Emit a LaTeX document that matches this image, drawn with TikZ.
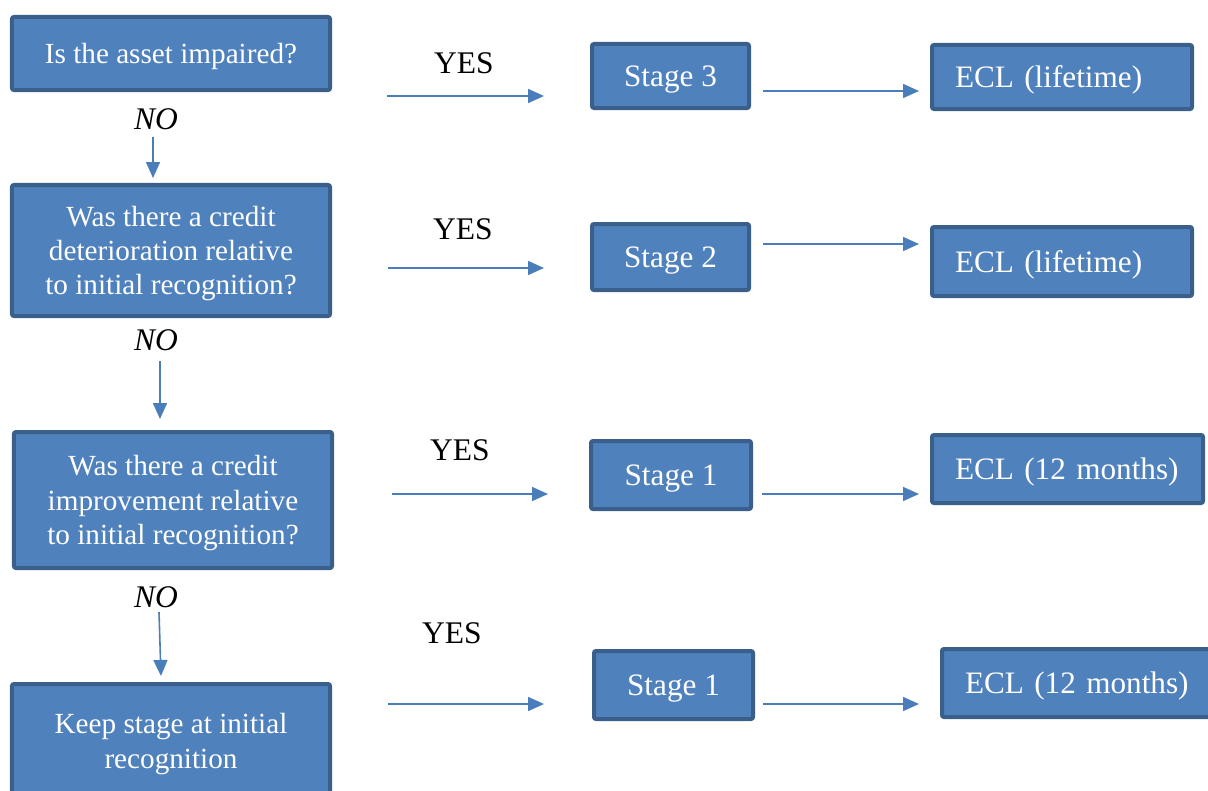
\documentclass[tikz,border=0pt]{standalone}
\usepackage{fontspec}
\setmainfont{Liberation Serif}
\usetikzlibrary{arrows.meta}

\definecolor{boxfill}{HTML}{4F81BD}
\definecolor{boxline}{HTML}{3A5F8B}
\definecolor{arrowblue}{HTML}{4A7EBB}

\tikzset{
  box/.style={draw=boxline, fill=boxfill, line width=4bp, rounded corners=2bp,
    text=white, align=center, inner sep=0pt, text depth=0pt,
    font=\fontsize{29.2bp}{34.3bp}\selectfont},
  stagebox/.style={box, font=\fontsize{31.2bp}{36bp}\selectfont},
  eclbox/.style={stagebox, align=left, inner xsep=23bp},
  lbl/.style={font=\fontsize{31.5bp}{36bp}\selectfont, inner sep=0pt},
  nolbl/.style={lbl, font=\fontsize{31.5bp}{36bp}\selectfont\itshape},
  arr/.style={arrowblue, line width=1.6bp, -{Triangle[length=16bp, width=14bp]}}
}

\begin{document}
\begin{tikzpicture}[x=1bp, y=-1bp]
                \useasboundingbox (0, 0) rectangle (1208, 791);
                \clip (0, 0) rectangle (1208, 791);
                % question boxes
                \node [box, minimum width=318bp, minimum height=73bp] (q1) at (171, 53.5) {Is the asset impaired?};
                \node [box, minimum width=318bp, minimum height=131bp] (q2) at (171, 250.5) {Was there a credit\\deterioration relative\\to initial recognition?};
                \node [box, minimum width=318bp, minimum height=136bp] (q3) at (173, 500) {Was there a credit\\improvement relative\\to initial recognition?};
                \node [box, minimum width=318bp, minimum height=114bp] (q4) at (171, 741) {Keep stage at initial\\recognition};
                % stage boxes
                \node [stagebox, minimum width=157bp, minimum height=64bp] (st3) at (670.5, 76) {Stage 3};
                \node [stagebox, minimum width=157bp, minimum height=66bp] (st2) at (670.5, 257) {Stage 2};
                \node [stagebox, minimum width=160bp, minimum height=68bp] (st1a) at (671, 475) {Stage 1};
                \node [stagebox, minimum width=159bp, minimum height=68bp] (st1b) at (673.5, 685) {Stage 1};
                % ECL boxes
                \node [eclbox, text width=214bp, minimum height=64bp] (ecl1) at (1062, 77) {ECL (lifetime)};
                \node [eclbox, text width=214bp, minimum height=69bp] (ecl2) at (1062, 261.5) {ECL (lifetime)};
                \node [eclbox, text width=225bp, minimum height=68bp] (ecl3) at (1067.5, 469) {ECL (12 months)};
                \node [eclbox, text width=228bp, minimum height=68bp] (ecl4) at (1079, 683) {ECL (12 months)};
                % labels
                \node [lbl] (yes1) at (464, 63) {YES};
                \node [lbl] (yes2) at (463, 229) {YES};
                \node [lbl] (yes3) at (460, 450) {YES};
                \node [lbl] (yes4) at (452, 633) {YES};
                \node [nolbl] (no1) at (156, 119) {NO};
                \node [nolbl] (no2) at (156, 340) {NO};
                \node [nolbl] (no3) at (156, 597) {NO};
                % arrow ends
                \coordinate (n1a) at (153, 137);  \coordinate (n1b) at (153, 178);
                \coordinate (n2a) at (160, 361);  \coordinate (n2b) at (160, 419);
                \coordinate (n3a) at (159, 612);  \coordinate (n3b) at (161, 676);
                \coordinate (y1a) at (387, 96);   \coordinate (y1b) at (544, 96);
                \coordinate (y2a) at (388, 268);  \coordinate (y2b) at (544, 268);
                \coordinate (y3a) at (392, 494);  \coordinate (y3b) at (548, 494);
                \coordinate (y4a) at (388, 704);  \coordinate (y4b) at (544, 704);
                \coordinate (e1a) at (763, 91);   \coordinate (e1b) at (919, 91);
                \coordinate (e2a) at (763, 244);  \coordinate (e2b) at (919, 244);
                \coordinate (e3a) at (762, 494);  \coordinate (e3b) at (919, 494);
                \coordinate (e4a) at (763, 704);  \coordinate (e4b) at (919, 704);
                \draw [arr] (n1a) -- (n1b);
                \draw [arr] (n2a) -- (n2b);
                \draw [arr] (n3a) -- (n3b);
                \draw [arr] (y1a) -- (y1b);
                \draw [arr] (y2a) -- (y2b);
                \draw [arr] (y3a) -- (y3b);
                \draw [arr] (y4a) -- (y4b);
                \draw [arr] (e1a) -- (e1b);
                \draw [arr] (e2a) -- (e2b);
                \draw [arr] (e3a) -- (e3b);
                \draw [arr] (e4a) -- (e4b);
            \end{tikzpicture}
\end{document}
